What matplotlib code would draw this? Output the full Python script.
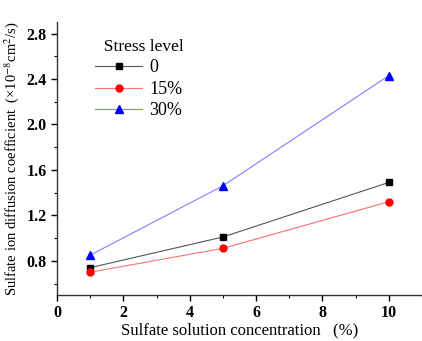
import matplotlib
matplotlib.use('Agg')
import matplotlib.pyplot as plt
from matplotlib.ticker import MultipleLocator

plt.rcParams['font.family'] = ['Liberation Serif', 'DejaVu Serif']
plt.rcParams['mathtext.fontset'] = 'stix'

conc = [1, 5, 10]
s0 = [0.74, 1.01, 1.49]
s15 = [0.70, 0.91, 1.32]
s30 = [0.85, 1.46, 2.43]
labels = ['0', '15%', '30%']

fig = plt.figure(figsize=(4.22, 3.41), dpi=100)
ax = fig.add_axes([0.135, 0.135, 0.865, 0.80])

ax.plot(conc, s0, color='#555555', lw=0.8, marker='s', ms=4.5, mfc='black', mec='black', label=labels[0])
ax.plot(conc, s15, color='#ff6f6f', lw=0.8, marker='o', ms=5, mfc='red', mec='red', label=labels[1])
ax.plot(conc, s30, color='#7f7fff', lw=0.8, marker='^', ms=5.5, mfc='blue', mec='blue', label=labels[2])

ax.set_xlim(0, 11)
ax.set_ylim(0.5, 2.9)
ax.xaxis.set_major_locator(MultipleLocator(2))
ax.xaxis.set_minor_locator(MultipleLocator(1))
ax.yaxis.set_minor_locator(MultipleLocator(0.2))
ax.set_yticks([0.8, 1.2, 1.6, 2.0, 2.4, 2.8])
ax.spines['top'].set_visible(False)
ax.spines['right'].set_visible(False)
for s in ['left', 'bottom']:
    ax.spines[s].set_linewidth(1.0)
    ax.spines[s].set_color('#333333')
ax.tick_params(which='major', direction='out', length=4, width=1, labelsize=11.5)
ax.tick_params(which='minor', direction='out', length=2, width=0.8)
for t in ax.get_xticklabels() + ax.get_yticklabels():
    t.set_fontweight('bold')

ax.set_xlabel('Sulfate solution concentration   (%)', fontsize=12, labelpad=1)
ax.set_ylabel('Sulfate ion diffusion coefficient  (×10$^{-8}$cm$^{2}$/s)', fontsize=10.5, labelpad=4)

leg = ax.legend(title='  Stress level', loc='upper left', bbox_to_anchor=(0.085, 0.965),
                frameon=False, fontsize=13, title_fontsize=12.5, handlelength=2.6,
                handletextpad=0.4, labelspacing=0.25, borderaxespad=0)
leg._legend_box.align = 'left'

fig.savefig('out.png', dpi=100)
